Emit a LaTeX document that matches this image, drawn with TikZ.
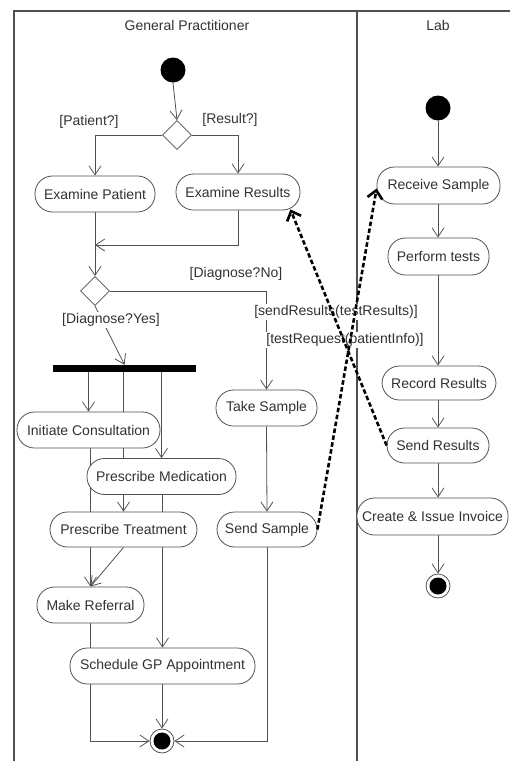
\documentclass[tikz,border=0pt]{standalone}
\usepackage{fontspec}
\setmainfont{Liberation Sans}
\usetikzlibrary{arrows.meta,shapes.geometric,calc}
\pgfdeclarelayer{bg}
\pgfsetlayers{bg,main}
\definecolor{ln}{RGB}{80,80,80}
\definecolor{tx}{RGB}{50,50,50}
\begin{document}
\begin{tikzpicture}[x=1pt,y=-1pt,
  font=\fontsize{14}{16}\selectfont, text=tx,
  act/.style={draw=ln, line width=0.8pt, fill=white, rounded corners=17.5pt,
    inner sep=0pt, minimum height=36pt, minimum width=#1},
  act/.default=100,
  conn/.style={draw=ln, line width=0.8pt, -{Straight Barb[length=9pt,width=12pt]}},
  plain/.style={draw=ln, line width=0.8pt},
  msg/.style={draw=black, line width=2.6pt, dash pattern=on 4.5pt off 2.5pt,
    -{Straight Barb[length=8pt,width=15pt]}},
  lane/.style={draw=ln, line width=1.1pt},
  guard/.style={inner sep=1pt},
  guardw/.style={inner sep=1pt, fill=white},
  startnode/.style={circle, fill=black, minimum size=25pt, inner sep=0pt},
  endnode/.style={circle, draw=ln, line width=0.8pt, fill=white, minimum size=24pt, inner sep=0pt},
  dec/.style={diamond, draw=ln, line width=0.8pt, fill=white, minimum width=29pt,
    minimum height=29pt, inner sep=0pt, aspect=1},
  bar/.style={fill=black, minimum width=143pt, minimum height=7pt, inner sep=0pt}
]
\useasboundingbox (0,0) rectangle (510,761);

% titles
\node (gpT) at (187,25) {General Practitioner};
\node (labT) at (438,25) {Lab};

% GP nodes
\node[startnode] (S1) at (173,70) {};
\node[dec] (D1) at (177,135) {};
\node[act=120] (EP) at (95,194) {Examine Patient};
\node[act=124] (ER) at (238,192) {Examine Results};
\coordinate (M) at (95,245);
\node[dec] (D2) at (95,291) {};
\node[bar] (fork) at (124.5,368.5) {};
\node[act=143] (IC) at (88.5,430) {Initiate Consultation};
\node[act=101] (TS) at (266.5,408) {Take Sample};
\node[act=149] (PM) at (161.5,476.5) {Prescribe Medication};
\node[act=147, minimum height=35pt] (PTr) at (123.5,529.5) {Prescribe Treatment};
\node[act=100, minimum height=35pt] (SS) at (267,529.5) {Send Sample};
\node[act=107] (MR) at (90.5,605) {Make Referral};
\node[act=185] (SGP) at (162.5,666) {Schedule GP Appointment};
\node[endnode] (F1) at (162,741) {};
\fill (F1.center) circle (8.5pt);

% Lab nodes
\node[startnode] (S2) at (438,108) {};
\node[act=123, minimum height=37pt] (RS) at (438.5,185.5) {Receive Sample};
\node[act=101, minimum height=37pt] (PT) at (438.5,256.5) {Perform tests};
\node[act=114, minimum height=34pt] (RR) at (439,383) {Record Results};
\node[act=102, minimum height=35pt] (SR) at (438,445.5) {Send Results};
\node[act=151, minimum height=37pt] (CII) at (432.5,516.5) {Create \& Issue Invoice};
\node[endnode] (F2) at (438,586) {};
\fill (F2.center) circle (8.5pt);

% guards
\node[guard] (gP) at (89,122) {[Patient?]};
\node[guard] (gR) at (230,120) {[Result?]};
\node[guard] (gN) at (236,274) {[Diagnose?No]};
\node[guardw] (gY) at (111,320) {[Diagnose?Yes]};
\node[guardw] (gS) at (336,312) {[sendResults(testResults)]};
\node[guardw] (gT) at (345,340) {[testRequest(patientInfo)]};

\begin{pgfonlayer}{bg}
  % swimlanes
  \draw[lane] (14,761) -- (14,11) -- (510,11);
  \draw[lane] (357,11) -- (357,761);
  % GP flow
  \draw[conn] (S1.south) -- (D1.north);
  \draw[conn] (D1.west) -| (EP.north);
  \draw[conn] (D1.east) -| (ER.north);
  \draw[conn] (EP.south) -- (D2.north);
  \draw[conn] (ER.south) |- (M);
  \draw[conn] (D2.east) -| (TS.north);
  \draw[conn] (D2.south) -- (fork.north);
  \draw[conn] (fork.south -| IC.north) -- (IC.north);
  \draw[conn] (fork.south -| PTr.north) -- (PTr.north);
  \draw[conn] (fork.south -| PM.north) -- (PM.north);
  \draw[conn] (IC.south -| MR.north) -- (MR.north);
  \draw[conn] (PTr.south) -- (MR.north);
  \draw[conn] (PM.south -| SGP.north) -- (SGP.north);
  \draw[conn] (TS.south) -- (SS.north);
  \draw[conn] (MR.south) |- (F1.west);
  \draw[conn] (SGP.south -| F1.north) -- (F1.north);
  \draw[conn] (SS.south) |- (F1.east);
  % Lab flow
  \draw[conn] (S2.south) -- (RS.north -| S2.south);
  \draw[conn] (RS.south -| S2.south) -- (PT.north -| S2.south);
  \draw[conn] (PT.south -| S2.south) -- (RR.north -| S2.south);
  \draw[conn] (RR.south -| S2.south) -- (SR.north -| S2.south);
  \draw[conn] (SR.south -| S2.south) -- (CII.north -| S2.south);
  \draw[conn] (CII.south -| S2.south) -- (F2.north);
\end{pgfonlayer}

% message flows
\draw[msg] (SR.west) -- ($(ER.south east)+(-10,-1)$);
\draw[msg] (SS.east) -- ($(RS.west)+(0,3)$);
\end{tikzpicture}
\end{document}
